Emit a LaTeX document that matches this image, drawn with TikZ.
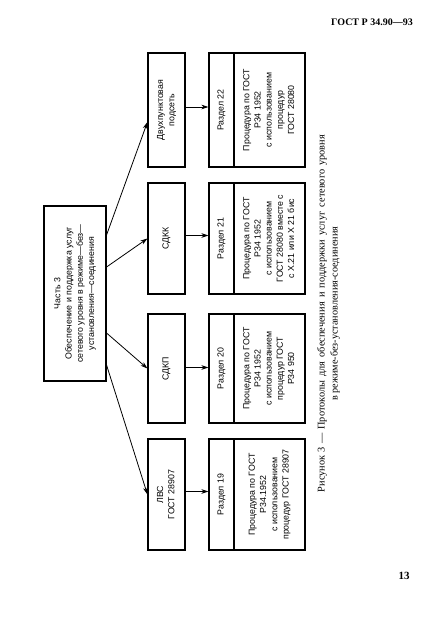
\documentclass[tikz,border=0pt]{standalone}
\usepackage{fontspec}
\setmainfont{Liberation Serif}
\newfontfamily\diag{Liberation Sans}
\usepackage{graphicx}
\usetikzlibrary{arrows.meta}
\newcommand{\rt}[1]{\rotatebox{90}{\begin{tabular}{@{}c@{}}#1\end{tabular}}}
\begin{document}
\begin{tikzpicture}[x=1pt,y=-1pt,
  box/.style={draw, line width=1.1pt, inner sep=0pt, font=\diag\fontsize{8.8}{11.2}\selectfont},
  arr/.style={-{Stealth[length=7pt,width=4.5pt,inset=2pt]}, line width=0.8pt},
  captxt/.style={rotate=90, inner sep=0pt}]
\useasboundingbox (0,0) rectangle (433,625);

\node[box, minimum width=62pt, minimum height=175pt] (main) at (75,293.5)
  {\rt{Часть 3\\Обеспечение и поддержка услуг\\сетевого уровня в режиме—без—\\установления—соединения}};

\node[box, minimum width=37pt, minimum height=114pt] (dv) at (166.5,110) {\rt{Двухпунктовая\\подсеть}};
\node[box, minimum width=37pt, minimum height=111pt] (sdkk) at (166.5,238.5) {\rt{СДКК}};
\node[box, minimum width=37pt, minimum height=109pt] (sdkp) at (166.5,368.5) {\rt{СДКП}};
\node[box, minimum width=37pt, minimum height=111pt] (lvs) at (166.5,494.5) {\rt{ЛВС\\ГОСТ 28907}};

\node[box, minimum width=25pt, minimum height=114pt] (s22) at (221.5,110) {\rt{Раздел 22}};
\node[box, minimum width=71pt, minimum height=114pt] (c22) at (269.5,110)
  {\rt{Процедура по ГОСТ\\Р34 1952\\с использованием\\процедур\\ГОСТ 28080}};
\node[box, minimum width=25pt, minimum height=111pt] (s21) at (221.5,238.5) {\rt{Раздел 21}};
\node[box, minimum width=71pt, minimum height=111pt] (c21) at (269.5,238.5)
  {\rt{Процедура по ГОСТ\\Р34 1952\\с использованием\\ГОСТ 28080 вместе с\\с X.21 или X 21 бис}};
\node[box, minimum width=25pt, minimum height=109pt] (s20) at (221.5,368.5) {\rt{Раздел 20}};
\node[box, minimum width=71pt, minimum height=109pt] (c20) at (269.5,368.5)
  {\rt{Процедура по ГОСТ\\Р34 1952\\с использованием\\процедур ГОСТ\\Р34 950}};
\node[box, minimum width=25pt, minimum height=111pt] (s19) at (221.5,494.5) {\rt{Раздел 19}};
\node[box, minimum width=71pt, minimum height=111pt] (c19) at (269.5,494.5)
  {\rt{Процедура по ГОСТ\\Р34.1952\\с использованием\\процедур ГОСТ 28907}};

\draw[arr] ([yshift=58.5pt]main.east) -- ([yshift=-12pt]dv.west);
\draw[arr] ([yshift=26.5pt]main.east) -- (sdkk.west);
\draw[arr] ([yshift=-39.5pt]main.east) -- (sdkp.west);
\draw[arr] ([yshift=-71.5pt]main.east) -- (lvs.west);

\draw[arr] ([yshift=3pt]dv.east) -- ([yshift=3pt]s22.west);
\draw[arr] ([yshift=3pt]sdkk.east) -- ([yshift=3pt]s21.west);
\draw[arr] ([yshift=1pt]sdkp.east) -- ([yshift=1pt]s20.west);
\draw[arr] ([yshift=3pt]lvs.east) -- ([yshift=3pt]s19.west);

\node[captxt, font=\fontsize{10.3}{12}\selectfont] (cap1) at (322,313.5)
  {\makebox[357pt][s]{Рисунок\kern3.5pt 3\kern3.5pt —\kern3.5pt Протоколы для обеспечения и поддержки услуг сетевого уровня}};
\node[captxt, anchor=west, font=\fontsize{10.2}{12}\selectfont] (cap2) at (335,401) {в режиме-без-установления-соединения};

\node[font=\bfseries\fontsize{10}{12}\selectfont] (hdr) at (372,22) {ГОСТ Р 34.90—93};
\node[font=\bfseries\fontsize{11}{13}\selectfont] (pg) at (404,576) {13};
\end{tikzpicture}
\end{document}
